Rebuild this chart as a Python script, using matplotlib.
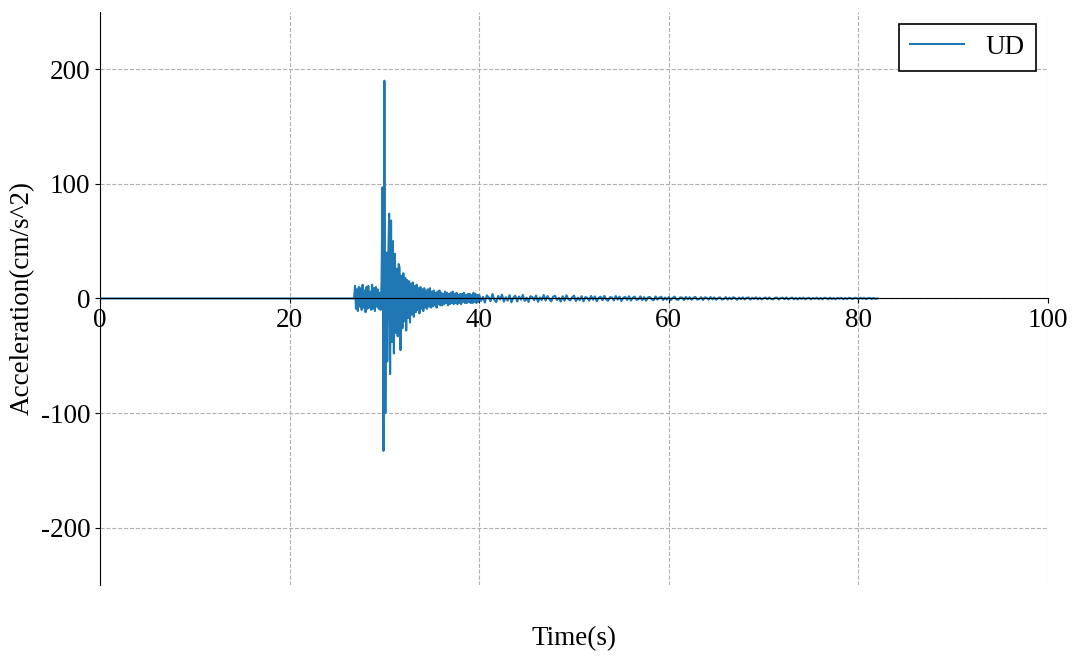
import numpy as np
import matplotlib
matplotlib.use("Agg")
import matplotlib.pyplot as plt

plt.rcParams['font.family'] = ['Liberation Serif', 'DejaVu Serif']
plt.rcParams['axes.unicode_minus'] = False

# quiet part before the event
quiet_t = [0.0, 26.7]
quiet_a = [0.0, 0.0]

# P-wave part, 0.1 s samples from 26.8 s
p_start = 26.8
p_wave = [0, 11, -9, 8, -11, 10, -7, 9, -10, 12, -8, 7, -12, 10, -9, 11, -8, 6,
          -10, 12, -9, 9, -11, 10, -7, 8, -9, 5, -10]

# strong motion, 0.1 s samples from 29.7 s
s_start = 29.7
s_wave = [15, 97, -133, 190, -100, 40, -55, 35, 74, -66, 68, -38, 50, -48, 39,
          -30, 26, -33, 30, 27, -45, 20, -26, 22, -20, 18, -28, 16, -17, 15,
          -21, 13, -14, 14, -16, 11, -12, 12, -10, 9, -13, 10, -9, 8, -11, 9,
          -8, 7, -9, 8, -7, 9, -8, 6, -7, 7, -6, 5, -8, 6, -5, 7, -6, 5, -6,
          4, -5, 6, -4, 5, -6, 4, -5, 5, -4, 6, -5, 4, -4, 5, -5, 3, -4, 4,
          -5, 4, -3, 5, -4, 3, -4, 4, -3, 4, -4, 3, -4, 5, -3, 4, -4, 3, -3]

# coda, 0.2 s samples from 40 s to 82 s
c_start = 40.0
coda = [3.2, -2.1, 1.4, -3.6, 2.7, 0.8, -2.4, 3.9, -1.2, -3.1, 2.2, -0.9, 3.4, -2.8, 1.1, -1.9, 2.9, -3.3, 0.6, 2.4,
        -2.6, 1.7, -1.1, 3.1, -2.2, 0.7, -3.0, 2.0, 1.2, -1.6, 2.6, -2.9, 0.9, -1.4, 3.0, -1.8, 2.1, -0.6, -2.5, 1.6,
        2.3, -1.3, 0.5, -2.7, 1.9, -2.0, 2.8, -0.8, -1.7, 1.0, 2.5, -2.3, 0.7, -1.5, 2.0, -2.6, 1.3, 0.4, -1.9, 2.2,
        -1.1, 1.8, -2.4, 0.6, 1.5, -1.6, 2.3, -0.9, -2.0, 1.2, 0.8, -1.7, 2.1, -1.0, 1.6, -2.2, 0.5, 1.4, -1.3, 1.9,
        -1.8, 0.7, 1.6, -1.2, -0.6, 1.8, -1.5, 1.1, -2.0, 0.9, 1.3, -0.7, -1.6, 1.7, -1.0, 0.6, 1.5, -1.4, 0.8, -1.1,
        1.2, -1.5, 0.4, 1.6, -0.9, -1.2, 1.0, 0.7, -1.4, 1.3, -0.8, 1.1, -1.2, 0.5, 1.4, -1.0, -0.6, 1.2, -1.3, 0.9,
        0.6, -1.1, 1.3, -0.7, 0.9, -1.2, 0.4, 1.0, -0.9, -0.5, 1.2, -1.0, 0.7, -0.8, 1.1, 0.3, -1.1, 0.8, -0.6, 1.0,
        -0.9, 0.5, 0.9, -1.0, 0.6, -0.4, 1.0, -0.8, 0.7, -0.9, 0.3, 0.8, -0.7, 0.9, -0.5, -0.8, 0.6, 0.8, -0.9, 0.4,
        0.7, -0.6, 0.9, -0.8, 0.2, 0.8, -0.7, 0.5, -0.8, 0.6, -0.4, 0.7, -0.7, 0.3, 0.6, -0.8, 0.5, -0.3, 0.7, -0.6,
        0.5, -0.7, 0.6, 0.3, -0.6, 0.7, -0.5, 0.4, -0.7, 0.5, -0.2, 0.6, -0.6, 0.4, -0.5, 0.6, 0.2, -0.5, 0.5,
        0.4, -0.6, 0.6, -0.3, 0.5, -0.6, 0.2, 0.5, -0.5, 0.4, -0.3, 0]

t = np.concatenate([quiet_t,
                    p_start + 0.1 * np.arange(len(p_wave)),
                    s_start + 0.1 * np.arange(len(s_wave)),
                    c_start + 0.2 * np.arange(len(coda))])
acc = np.concatenate([quiet_a, p_wave, s_wave, coda])

fig = plt.figure(figsize=(10.8, 6.64), dpi=100)
ax = fig.add_axes([0.0926, 0.119, 0.8778, 0.863])

ax.plot(t, acc, color='tab:blue', linewidth=1.5, label='UD')

ax.set_xlim(0, 100)
ax.set_ylim(-250, 250)
ax.set_xticks([0, 20, 40, 60, 80, 100])
ax.set_yticks([-200, -100, 0, 100, 200])
ax.tick_params(labelsize=19.5)

ax.spines['top'].set_visible(False)
ax.spines['right'].set_visible(False)
ax.spines['bottom'].set_position(('data', 0))

ax.grid(True, linestyle='--', color='#b0b0b0', linewidth=0.8)

ax.set_ylabel('Acceleration(cm/s^2)', fontsize=19.5)
ax.set_xlabel('Time(s)', fontsize=19.5)
ax.xaxis.set_label_coords(0.5, -0.072)

leg = ax.legend(loc='upper right', fontsize=19.5, fancybox=False,
                edgecolor='black', framealpha=1, borderaxespad=0.45)
leg.get_frame().set_linewidth(1.2)

fig.savefig('out.png', dpi=100)
